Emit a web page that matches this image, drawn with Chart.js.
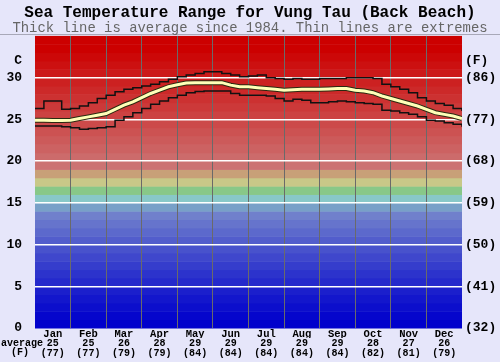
<!DOCTYPE html>
<html>
<head>
<meta charset="utf-8">
<script src="https://cdn.jsdelivr.net/npm/chart.js@4.4.1/dist/chart.umd.min.js"></script>
<style>
  body { margin: 0; background: #e6e6fa; }
  #wrap { width: 500px; height: 362px; }
</style>
</head>
<body>
<div id="wrap"><canvas id="seaChart" width="500" height="362"></canvas></div>
<script>
// month names and the monthly averages printed under the chart
const months = ['Jan', 'Feb', 'Mar', 'Apr', 'May', 'Jun', 'Jul', 'Aug', 'Sep', 'Oct', 'Nov', 'Dec'];
const avgC = [25, 25, 26, 28, 29, 29, 29, 29, 29, 28, 27, 26];
const avgF = [77, 77, 79, 79, 84, 84, 84, 84, 84, 82, 81, 79];

// position in the year, in months (0 = 1 Jan, 12 = 31 Dec)
const pos = [0, 0.25, 0.5, 0.75, 1, 1.25, 1.5, 1.75, 2, 2.25, 2.5, 2.75, 3, 3.25, 3.5, 3.75,
  4, 4.25, 4.5, 4.75, 5, 5.25, 5.5, 5.75, 6, 6.25, 6.5, 6.75, 7, 7.25, 7.5, 7.75,
  8, 8.25, 8.5, 8.75, 9, 9.25, 9.5, 9.75, 10, 10.25, 10.5, 10.75, 11, 11.25, 11.5, 11.75, 12];

// sea temperature in C
const avgTemp = [24.9, 24.9, 24.85, 24.85, 24.9, 25.1, 25.3, 25.5, 25.7, 26.2, 26.7, 27.1, 27.6, 28.1, 28.5, 28.9,
  29.15, 29.35, 29.4, 29.4, 29.4, 29.4, 29.1, 28.9, 28.9, 28.8, 28.7, 28.6, 28.5, 28.55, 28.6, 28.6,
  28.6, 28.65, 28.7, 28.7, 28.5, 28.4, 28.2, 27.8, 27.5, 27.2, 26.9, 26.6, 26.2, 25.8, 25.6, 25.4, 25.1];
const maxTemp = [26.3, 27.2, 27.2, 26.2, 26.3, 26.6, 27.0, 27.5, 27.9, 28.3, 28.6, 28.8, 29.0, 29.2, 29.5, 29.8,
  30.1, 30.3, 30.5, 30.7, 30.7, 30.5, 30.3, 30.1, 30.2, 30.3, 30.0, 29.9, 29.8, 29.9, 29.8, 29.8,
  29.9, 29.9, 29.9, 30.0, 30.0, 30.0, 29.9, 29.2, 28.9, 28.6, 28.2, 27.6, 27.2, 26.9, 26.7, 26.3, 26.0];
const minTemp = [24.2, 24.2, 24.2, 24.1, 24.0, 23.8, 23.9, 24.0, 24.1, 24.9, 25.3, 25.8, 26.3, 26.8, 27.2, 27.6,
  27.9, 28.2, 28.35, 28.4, 28.4, 28.4, 28.1, 27.9, 27.9, 27.9, 27.8, 27.5, 27.2, 27.4, 27.3, 27.0,
  27.0, 27.1, 27.2, 27.1, 27.0, 26.9, 26.8, 26.1, 26.0, 25.8, 25.6, 25.3, 24.9, 24.8, 24.6, 24.4, 24.1];

const yTicks = [0, 5, 10, 15, 20, 25, 30];

const pts = arr => arr.map((v, i) => ({ x: pos[i], y: v }));

// background colour for each 1 degree band (0-1, 1-2, ...)
function bandColor(t) {
  if (t >= 19) {
    const g = Math.max(0, Math.round((33 - t) * 8.2));
    return `rgb(204,${g},${g})`;
  }
  if (t === 18) return '#c8a078';
  if (t === 17) return '#c8c888';
  if (t === 16) return '#88c888';
  if (t === 15) return '#88c8c8';
  if (t === 14) return '#78a0c8';
  const k = Math.pow(t / 13, 1.2);
  return `rgb(${Math.round(112 * k)},${Math.round(128 * k)},204)`;
}

const bandsPlugin = {
  id: 'bands',
  beforeDraw(chart) {
    const ctx = chart.ctx;
    const area = chart.chartArea;
    const y = chart.scales.y;
    ctx.save();
    ctx.fillStyle = '#e6e6fa';
    ctx.fillRect(0, 0, chart.width, chart.height);
    ctx.strokeStyle = '#a8a8b8';
    ctx.lineWidth = 1;
    ctx.beginPath();
    ctx.moveTo(0, 34.5);
    ctx.lineTo(chart.width, 34.5);
    ctx.stroke();
    for (let t = 0; t < 35; t++) {
      const top = y.getPixelForValue(t + 1);
      const bot = y.getPixelForValue(t);
      ctx.fillStyle = bandColor(t);
      ctx.fillRect(area.left, top, area.right - area.left, bot - top + 0.5);
    }
    ctx.restore();
  },
  afterDraw(chart) {
    const ctx = chart.ctx;
    const area = chart.chartArea;
    ctx.save();
    ctx.fillStyle = '#000';
    ctx.font = "bold 10px 'Liberation Mono', monospace";
    ctx.textAlign = 'center';
    ctx.textBaseline = 'middle';
    ctx.fillText('average', 22, area.bottom + 15);
    ctx.fillText('(F)', 20, area.bottom + 24);
    ctx.restore();
  }
};

const mono = "'Liberation Mono', 'DejaVu Sans Mono', monospace";

// the first dataset is drawn last (on top)
const config = {
  type: 'line',
  data: {
    datasets: [
      { data: pts(avgTemp), borderColor: '#ffffb8', borderWidth: 3, pointRadius: 0 },
      { data: pts(avgTemp), borderColor: '#2a2a10', borderWidth: 5, pointRadius: 0 },
      { data: pts(maxTemp), borderColor: '#111', borderWidth: 1.5, stepped: true, pointRadius: 0 },
      { data: pts(minTemp), borderColor: '#111', borderWidth: 1.5, stepped: true, pointRadius: 0 }
    ]
  },
  options: {
    responsive: false,
    animation: false,
    events: [],
    layout: { padding: 0 },
    plugins: {
      legend: { display: false },
      tooltip: { enabled: false },
      title: {
        display: true,
        text: 'Sea Temperature Range for Vung Tau (Back Beach)',
        color: '#000',
        font: { family: mono, size: 16, weight: 'bold', lineHeight: 1 },
        padding: { top: 5, bottom: 0 }
      },
      subtitle: {
        display: true,
        text: 'Thick line is average since 1984. Thin lines are extremes',
        color: '#666',
        font: { family: mono, size: 13.9, lineHeight: 1 },
        padding: { top: 0, bottom: 1 }
      }
    },
    scales: {
      x: {
        type: 'linear', min: 0, max: 12, position: 'bottom', weight: 0,
        afterBuildTicks: s => { s.ticks = months.map((m, i) => ({ value: i })).concat([{ value: 12 }]); },
        ticks: { display: false },
        border: { display: false },
        grid: {
          drawTicks: false,
          color: c => (c.tick.value === 0 || c.tick.value === 12) ? 'rgba(0,0,0,0)' : '#6a6a6a',
          lineWidth: 1
        },
        afterFit: s => { s.height = 0; }
      },
      xm: {
        type: 'linear', min: 0, max: 12, position: 'bottom', weight: 1,
        afterBuildTicks: s => { s.ticks = months.map((m, i) => ({ value: i + 0.5 })); },
        ticks: {
          autoSkip: false, maxRotation: 0, padding: 1, color: '#000',
          font: { family: mono, size: 10.5, weight: 'bold', lineHeight: 1 },
          callback: v => months[Math.floor(v)]
        },
        grid: { display: false, drawTicks: false },
        border: { display: false },
        afterFit: s => { s.height = 10; }
      },
      xa: {
        type: 'linear', min: 0, max: 12, position: 'bottom', weight: 2,
        afterBuildTicks: s => { s.ticks = months.map((m, i) => ({ value: i + 0.5 })); },
        ticks: {
          autoSkip: false, maxRotation: 0, padding: 1, color: '#000',
          font: { family: mono, size: 10, weight: 'bold', lineHeight: 0.95 },
          callback: v => [String(avgC[Math.floor(v)]), '(' + avgF[Math.floor(v)] + ')']
        },
        grid: { display: false, drawTicks: false },
        border: { display: false },
        afterFit: s => { s.height = 24; }
      },
      y: {
        type: 'linear', min: 0, max: 35, position: 'left',
        afterBuildTicks: s => { s.ticks = yTicks.map(v => ({ value: v })).concat([{ value: 32 }]); },
        ticks: {
          padding: 13, color: '#000',
          font: { family: mono, size: 13, weight: 'bold' },
          callback: v => v === 32 ? 'C' : String(v)
        },
        grid: {
          drawTicks: false,
          color: c => (c.tick.value > 0 && c.tick.value <= 30) ? '#ffffff' : 'rgba(0,0,0,0)',
          lineWidth: 1.5
        },
        border: { display: false },
        afterFit: s => { s.width = 35; }
      },
      y2: {
        type: 'linear', min: 0, max: 35, position: 'right',
        afterBuildTicks: s => { s.ticks = yTicks.map(v => ({ value: v })).concat([{ value: 32 }]); },
        ticks: {
          padding: 3, color: '#000',
          font: { family: mono, size: 13, weight: 'bold' },
          callback: v => v === 32 ? '(F)' : '(' + Math.round(v * 9 / 5 + 32) + ')'
        },
        grid: { display: false, drawTicks: false },
        border: { display: false },
        afterFit: s => { s.width = 38; }
      }
    }
  },
  plugins: [bandsPlugin]
};

const seaChart = new Chart(document.getElementById('seaChart'), config);
</script>
</body>
</html>
